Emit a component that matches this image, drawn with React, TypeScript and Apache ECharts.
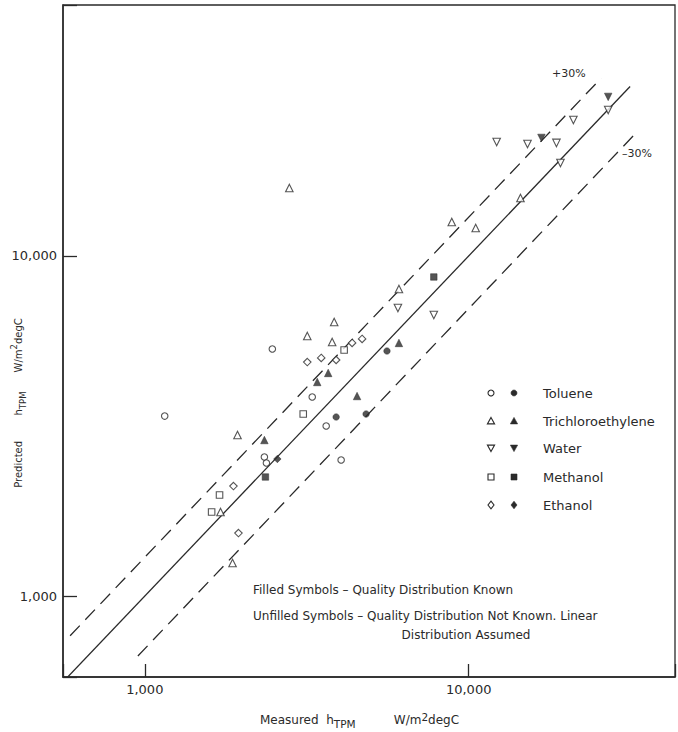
import React, { useEffect, useRef } from 'react';
import * as echarts from 'echarts';

const INK = '#2a2a2a';
const FONT = 'DejaVu Sans';

// Axis extents (W/m²degC), log scales
const xRange = [559, 43350];
const yRange = [578, 54700];
const tickLabels = ['1,000', '10,000'];

// Reference lines: predicted = factor × measured
const refNames = ['+30%', 'Equal', '-30%'];
const refFactors = [1.3, 1.0, 0.7];
const refStartX = [588, 568, 952];
const refEndX = [25650, 31500, 32900];
const refDashed = [true, false, true];

// Toluene
const tolueneOpenX = [1152, 2476, 4038, 2340, 2374, 3631, 3288];
const tolueneOpenY = [3383, 5326, 2512, 2563, 2461, 3162, 3848];
const tolueneFilledX = [3897, 4822, 5594];
const tolueneFilledY = [3361, 3430, 5254];

// Trichloroethylene
const trichloroOpenX = [2794, 3843, 3174, 3788, 6090, 8867, 10510, 14450, 1933, 1713, 1866];
const trichloroOpenY = [15850, 6396, 5818, 5587, 7997, 12590, 12090, 14810, 2975, 1767, 1251];
const trichloroFilledX = [3683, 3407, 4522, 6090, 2340];
const trichloroFilledY = [4529, 4260, 3874, 5549, 2876];

// Water
const waterOpenX = [12200, 15190, 18660, 21050, 26960, 19200, 6046, 7804];
const waterOpenY = [21640, 21350, 21500, 25120, 26880, 18770, 7032, 6707];
const waterFilledX = [16770, 26960];
const waterFilledY = [22240, 29360];

// Methanol
const methanolOpenX = [3084, 1701, 1608, 4125];
const methanolOpenY = [3430, 1982, 1767, 5290];
const methanolFilledX = [7804, 2357];
const methanolFilledY = [8674, 2239];

// Ethanol
const ethanolOpenX = [3174, 3505, 3897, 4365, 4687, 1878, 1946];
const ethanolOpenY = [4877, 5012, 4944, 5549, 5701, 2106, 1532];
const ethanolFilledX = [2566];
const ethanolFilledY = [2529];

const legendNames = ['Toluene', 'Trichloroethylene', 'Water', 'Methanol', 'Ethanol'];
const noteLines = [
  'Filled Symbols – Quality Distribution Known',
  'Unfilled Symbols – Quality Distribution Not Known. Linear',
  'Distribution Assumed',
];

const zip = (xs: number[], ys: number[]) => xs.map((x, i) => [x, ys[i]]);

function scatter(name: string, xs: number[], ys: number[], symbol: string, size: number, filled: boolean, rotate = 0) {
  return {
    type: 'scatter',
    name,
    data: zip(xs, ys),
    symbol,
    symbolSize: size,
    symbolRotate: rotate,
    itemStyle: filled
      ? { color: INK, borderColor: INK, borderWidth: 0.6 }
      : { color: '#ffffff', borderColor: INK, borderWidth: 1.1 },
    z: 5,
    silent: true,
  };
}

function tickFormatter(v: number) {
  const l = Math.log10(v);
  const r = Math.round(l);
  if (Math.abs(l - r) > 0.01) return '';
  return r === 3 ? tickLabels[0] : r === 4 ? tickLabels[1] : '';
}

function legendGraphics() {
  const els: any[] = [];
  const rowsY = [393, 421, 448, 477, 505];
  const hx = 491;
  const fx = 514;
  const tx = 543;
  const open = { fill: '#fff', stroke: INK, lineWidth: 1.1 };
  const fill = { fill: INK, stroke: INK, lineWidth: 0.6 };
  const tri = (cx: number, cy: number, up: boolean) => {
    const s = 3.6;
    return up
      ? [[cx, cy - s], [cx + s, cy + s * 0.8], [cx - s, cy + s * 0.8]]
      : [[cx, cy + s], [cx + s, cy - s * 0.8], [cx - s, cy - s * 0.8]];
  };
  const dia = (cx: number, cy: number) => [[cx, cy - 3.8], [cx + 3, cy], [cx, cy + 3.8], [cx - 3, cy]];
  rowsY.forEach((y, i) => {
    if (i === 0) {
      els.push({ type: 'circle', shape: { cx: hx, cy: y, r: 3 }, style: open });
      els.push({ type: 'circle', shape: { cx: fx, cy: y, r: 3 }, style: fill });
    } else if (i === 1) {
      els.push({ type: 'polygon', shape: { points: tri(hx, y, true) }, style: open });
      els.push({ type: 'polygon', shape: { points: tri(fx, y, true) }, style: fill });
    } else if (i === 2) {
      els.push({ type: 'polygon', shape: { points: tri(hx, y, false) }, style: open });
      els.push({ type: 'polygon', shape: { points: tri(fx, y, false) }, style: fill });
    } else if (i === 3) {
      els.push({ type: 'rect', shape: { x: hx - 3, y: y - 3, width: 6, height: 6 }, style: open });
      els.push({ type: 'rect', shape: { x: fx - 3, y: y - 3, width: 6, height: 6 }, style: fill });
    } else {
      els.push({ type: 'polygon', shape: { points: dia(hx, y) }, style: open });
      els.push({ type: 'polygon', shape: { points: dia(fx, y) }, style: fill });
    }
    els.push({
      type: 'text',
      x: tx,
      y,
      style: { text: legendNames[i], fontSize: 13, fontFamily: FONT, fill: INK, align: 'left', verticalAlign: 'middle' },
    });
  });
  return els;
}

export default function App() {
  const ref = useRef<HTMLDivElement>(null);
  useEffect(() => {
    if (!ref.current) return;
    const chart = echarts.init(ref.current, undefined, { renderer: 'svg' });

    const refSeries = refFactors.map((f, i) => ({
      type: 'line',
      name: refNames[i],
      data: [
        [refStartX[i], refStartX[i] * f],
        [refEndX[i], refEndX[i] * f],
      ],
      symbol: 'none',
      lineStyle: { color: INK, width: 1.3, type: refDashed[i] ? [14, 8] : 'solid' },
      z: 3,
      silent: true,
    }));

    const richTitle = (size: number, subSize: number) => ({
      a: { fontSize: size, lineHeight: 18, fontFamily: FONT, fill: INK, verticalAlign: 'middle' },
      s: { fontSize: subSize, lineHeight: 10, fontFamily: FONT, fill: INK, verticalAlign: 'bottom' },
      p: { fontSize: subSize, lineHeight: 10, fontFamily: FONT, fill: INK, verticalAlign: 'top' },
    });

    const option: any = {
      animation: false,
      backgroundColor: '#ffffff',
      grid: { left: 63, top: 5, right: 1, bottom: 55, show: true, borderColor: INK, borderWidth: 1.3 },
      xAxis: {
        type: 'log',
        logBase: 10,
        min: xRange[0],
        max: xRange[1],
        axisLine: { show: true, lineStyle: { color: INK, width: 1.5 } },
        axisTick: { show: true, inside: true, length: 13, lineStyle: { color: INK, width: 1.3 } },
        minorTick: { show: false },
        splitLine: { show: false },
        axisLabel: { formatter: tickFormatter, fontSize: 13, fontFamily: FONT, color: INK, margin: 6 },
      },
      yAxis: {
        type: 'log',
        logBase: 10,
        min: yRange[0],
        max: yRange[1],
        axisLine: { show: true, lineStyle: { color: INK, width: 1.5 } },
        axisTick: { show: true, inside: true, length: 14, lineStyle: { color: INK, width: 1.3 } },
        minorTick: { show: false },
        splitLine: { show: false },
        axisLabel: { formatter: tickFormatter, fontSize: 13, fontFamily: FONT, color: INK, margin: 6 },
      },
      series: [
        ...refSeries,
        scatter('Toluene (unfilled)', tolueneOpenX, tolueneOpenY, 'circle', 6.5, false),
        scatter('Toluene (filled)', tolueneFilledX, tolueneFilledY, 'circle', 6.5, true),
        scatter('Trichloroethylene (unfilled)', trichloroOpenX, trichloroOpenY, 'triangle', 7.5, false),
        scatter('Trichloroethylene (filled)', trichloroFilledX, trichloroFilledY, 'triangle', 7.5, true),
        scatter('Water (unfilled)', waterOpenX, waterOpenY, 'triangle', 7.5, false, 180),
        scatter('Water (filled)', waterFilledX, waterFilledY, 'triangle', 7.5, true, 180),
        scatter('Methanol (unfilled)', methanolOpenX, methanolOpenY, 'rect', 6.5, false),
        scatter('Methanol (filled)', methanolFilledX, methanolFilledY, 'rect', 6.5, true),
        scatter('Ethanol (unfilled)', ethanolOpenX, ethanolOpenY, 'diamond', 7.5, false),
        scatter('Ethanol (filled)', ethanolFilledX, ethanolFilledY, 'diamond', 7.5, true),
      ],
      graphic: [
        { type: 'text', x: 552, y: 73, style: { text: '+30%', fontSize: 11, fontFamily: FONT, fill: INK, align: 'left', verticalAlign: 'middle' } },
        { type: 'text', x: 622, y: 153, style: { text: '–30%', fontSize: 11, fontFamily: FONT, fill: INK, align: 'left', verticalAlign: 'middle' } },
        ...legendGraphics(),
        { type: 'text', x: 253, y: 590, style: { text: noteLines[0], fontSize: 12, fontFamily: FONT, fill: INK, align: 'left', verticalAlign: 'middle' } },
        { type: 'text', x: 253, y: 616, style: { text: noteLines[1], fontSize: 12, fontFamily: FONT, fill: INK, align: 'left', verticalAlign: 'middle' } },
        { type: 'text', x: 466, y: 635, style: { text: noteLines[2], fontSize: 12, fontFamily: FONT, fill: INK, align: 'center', verticalAlign: 'middle' } },
        {
          type: 'text',
          x: 260,
          y: 720,
          style: {
            text: '{a|Measured  h}{s|TPM}{a|          W/m}{p|2}{a|degC}',
            rich: richTitle(12, 10.5),
            align: 'left',
            verticalAlign: 'middle',
          },
        },
        {
          type: 'text',
          x: 18,
          y: 403,
          rotation: Math.PI / 2,
          style: {
            text: '{a|Predicted        h}{s|TPM}{a|      W/m}{p|2}{a|degC}',
            rich: richTitle(10, 8.5),
            align: 'center',
            verticalAlign: 'middle',
          },
        },
      ],
    };
    chart.setOption(option);
    return () => chart.dispose();
  }, []);

  return (
    <div
      ref={ref}
      style={{ position: 'fixed', left: 0, top: 0, width: 678, height: 732, background: '#ffffff' }}
    />
  );
}
